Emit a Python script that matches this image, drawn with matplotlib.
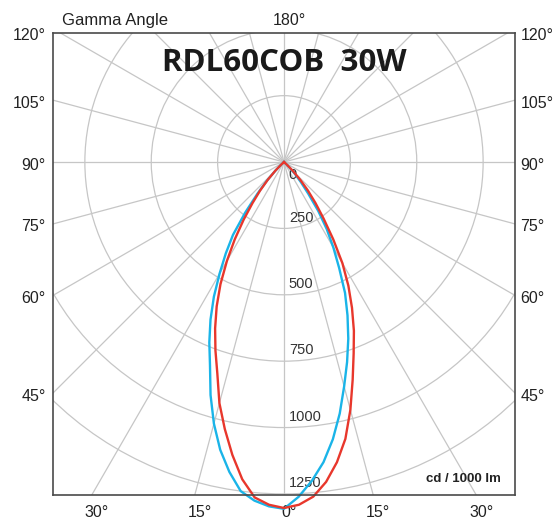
import numpy as np
import matplotlib
matplotlib.use('Agg')
import matplotlib.pyplot as plt
import matplotlib.transforms as mtransforms
from matplotlib.patches import Circle

# Luminous intensity (cd / 1000 lm) against gamma angle
gamma = np.arange(0, 50.1, 2.5)
red_left = np.array([1303, 1292, 1268, 1205, 1120, 1030, 940, 835, 755, 678, 600,
                     518, 430, 345, 265, 195, 140, 90, 45, 15, 0])
red_right = np.array([1303, 1292, 1265, 1215, 1148, 1068, 966, 860, 767, 688, 606,
                      525, 440, 345, 260, 195, 140, 90, 45, 15, 0])
blue_left = np.array([1306, 1298, 1280, 1250, 1185, 1110, 1020, 920, 815, 735, 655,
                      572, 485, 408, 335, 240, 155, 95, 45, 15, 0])
blue_right = np.array([1300, 1262, 1205, 1140, 1060, 970, 875, 790, 708, 625, 544,
                       450, 372, 300, 225, 150, 100, 62, 30, 10, 0])

rings = [0, 250, 500, 750, 1000, 1250]
side_angles = [120, 105, 90, 75, 60, 45]
bottom_angles = [-30, -15, 0, 15, 30]
title = 'RDL60COB  30W'

grid_col = '#c6c6c6'
red = '#e8372c'
blue = '#1ab4e8'

W, H = 559, 520
fig = plt.figure(figsize=(W / 100, H / 100), dpi=100)
fig.patch.set_facecolor('white')
ax = fig.add_axes([53 / W, 1 - 495 / H, 462 / W, 462 / H])
xmax, ytop, ybot = 870, 486, -1254
ax.set_xlim(-xmax, xmax)
ax.set_ylim(ybot, ytop)
ax.set_xticks([])
ax.set_yticks([])
for s in ax.spines.values():
    s.set_color('#4a4a4a')
    s.set_linewidth(1.2)
    s.set_zorder(5)

# grid: rings and 15 degree spokes
for r in rings[1:]:
    ax.add_patch(Circle((0, 0), r, fill=False, ec=grid_col, lw=0.9))
for a in np.arange(0, 360, 15):
    t = np.radians(a)
    ax.plot([0, 3000 * np.sin(t)], [0, -3000 * np.cos(t)], color=grid_col, lw=0.9)

# ring labels
for r in rings:
    y = -r + 41 if r else -49
    ax.text(18, y, str(r), fontsize=10.5, color='#333333', va='center', ha='left',
            family='Liberation Sans', zorder=3)


def outline(left, right):
    g = np.radians(gamma)
    xs = np.concatenate([-left[::-1] * np.sin(g[::-1]), right[1:] * np.sin(g[1:])])
    ys = np.concatenate([-left[::-1] * np.cos(g[::-1]), -right[1:] * np.cos(g[1:])])
    return xs, ys


bx, by = outline(blue_left, blue_right)
rx, ry = outline(red_left, red_right)
ax.plot(bx, by, color=blue, lw=1.7, clip_on=False, zorder=4, solid_joinstyle='round')
ax.plot(rx, ry, color=red, lw=1.7, clip_on=False, zorder=4, solid_joinstyle='round')

# angle labels round the frame
lab = dict(fontsize=11.5, color='#222222', family='Liberation Sans')
ytrans = mtransforms.offset_copy(ax.get_yaxis_transform(), fig=fig, x=0, y=-3, units='dots')
for a in side_angles:
    t = np.radians(a)
    y = -xmax / np.tan(t) if a != 90 else 0
    y = min(y, ytop)
    ax.text(-0.016, y, f'{a}°', transform=ytrans, ha='right', va='center', **lab)
    ax.text(1.012, y, f'{a}°', transform=ytrans, ha='left', va='center', **lab)
xtrans = mtransforms.offset_copy(ax.get_xaxis_transform(), fig=fig, x=5, y=0, units='dots')
for a in bottom_angles:
    x = -ybot * np.tan(np.radians(a))
    ax.text(x, -0.037, f'{abs(a)}°', transform=xtrans, ha='center', va='center', **lab)
ax.text(0, 1.026, '180°', transform=xtrans, ha='center', va='center', **lab)
fig.text(62 / W, 1 - 21 / H, 'Gamma Angle', ha='left', va='center', fontsize=12,
         color='#222222', family='Liberation Sans')

ax.text(0.97, 0.035, 'cd / 1000 lm', transform=ax.transAxes, ha='right', va='center',
        fontsize=9.5, fontweight='bold', color='#222222', family='Liberation Sans')
fig.text(284.5 / W, 1 - 63 / H, title, ha='center', va='center', fontsize=22.5,
         fontweight='bold', color='#1a1a1a', family='Open Sans')

fig.savefig('out.png', dpi=100, facecolor='white')
